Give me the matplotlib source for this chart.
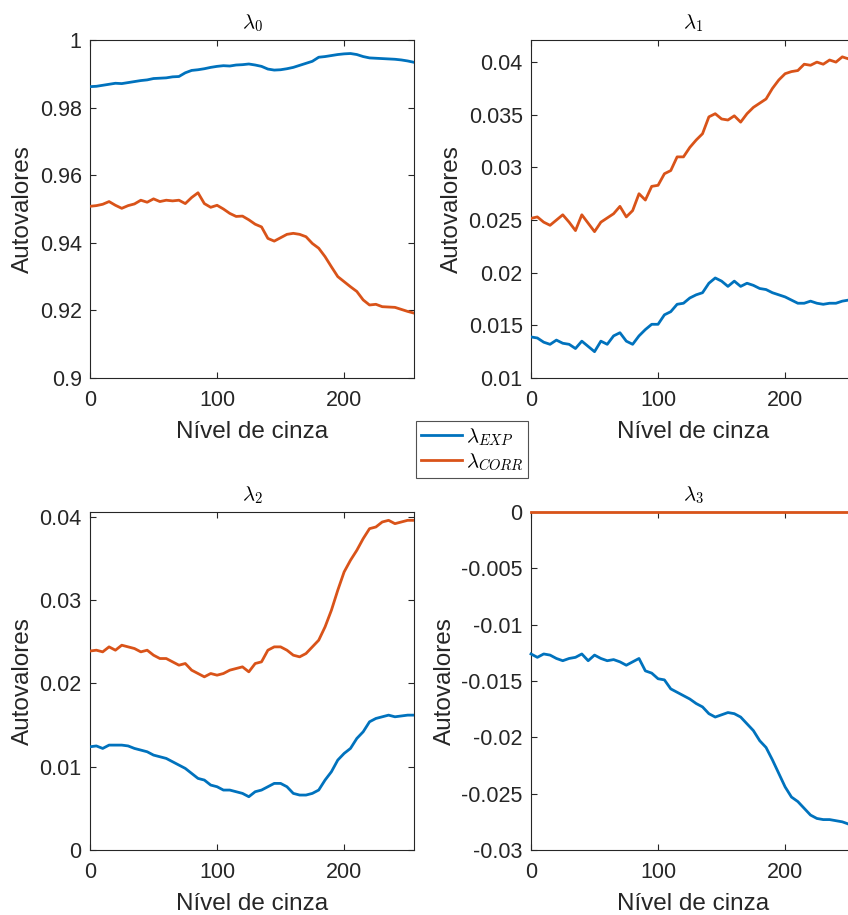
import numpy as np
import matplotlib
matplotlib.use("Agg")
import matplotlib.pyplot as plt
from matplotlib.lines import Line2D

plt.rcParams['font.family'] = ['Liberation Sans', 'DejaVu Sans']
plt.rcParams['mathtext.fontset'] = 'cm'
plt.rcParams['axes.unicode_minus'] = False

# gray levels (step 5)
gray = list(range(0, 256, 5))

l0_exp = [0.9862, 0.9863, 0.9866, 0.9869, 0.9872, 0.9871, 0.9874, 0.9877, 0.9880, 0.9882,
          0.9886, 0.9887, 0.9888, 0.9891, 0.9892, 0.9903, 0.9910, 0.9912, 0.9915, 0.9919,
          0.9922, 0.9924, 0.9923, 0.9926, 0.9927, 0.9929, 0.9926, 0.9922, 0.9914, 0.9911,
          0.9912, 0.9915, 0.9919, 0.9925, 0.9931, 0.9937, 0.9949, 0.9951, 0.9954, 0.9957,
          0.9959, 0.9960, 0.9957, 0.9951, 0.9947, 0.9946, 0.9945, 0.9944, 0.9943, 0.9941,
          0.9938, 0.9934]
l0_corr = [0.9508, 0.9510, 0.9514, 0.9522, 0.9511, 0.9502, 0.9510, 0.9515, 0.9526, 0.9520,
           0.9530, 0.9522, 0.9526, 0.9524, 0.9526, 0.9516, 0.9534, 0.9548, 0.9516, 0.9505,
           0.9511, 0.9500, 0.9487, 0.9478, 0.9479, 0.9468, 0.9455, 0.9447, 0.9413, 0.9405,
           0.9415, 0.9425, 0.9428, 0.9425, 0.9418, 0.9398, 0.9384, 0.9359, 0.9329, 0.9300,
           0.9285, 0.9270, 0.9256, 0.9231, 0.9216, 0.9218, 0.9211, 0.9210, 0.9209, 0.9203,
           0.9197, 0.9192]

l1_exp = [0.0139, 0.0138, 0.0134, 0.0132, 0.0136, 0.0133, 0.0132, 0.0128, 0.0135, 0.0130,
          0.0125, 0.0135, 0.0132, 0.0140, 0.0143, 0.0135, 0.0132, 0.0140, 0.0146, 0.0151,
          0.0151, 0.0160, 0.0163, 0.0170, 0.0171, 0.0176, 0.0179, 0.0181, 0.0190, 0.0195,
          0.0192, 0.0187, 0.0192, 0.0187, 0.0190, 0.0188, 0.0185, 0.0184, 0.0181, 0.0179,
          0.0177, 0.0174, 0.0171, 0.0171, 0.0173, 0.0171, 0.0170, 0.0171, 0.0171, 0.0173,
          0.0174, 0.0180]
l1_corr = [0.02516, 0.0253, 0.0248, 0.0245, 0.0250, 0.0255, 0.0248, 0.0240, 0.0255, 0.0247,
           0.0239, 0.0248, 0.0252, 0.0256, 0.0263, 0.0253, 0.0259, 0.0275, 0.0269, 0.0282,
           0.0283, 0.0294, 0.0297, 0.0310, 0.0310, 0.0319, 0.0326, 0.0332, 0.0348, 0.0351,
           0.0346, 0.0345, 0.0349, 0.0343, 0.0351, 0.0357, 0.0361, 0.0365, 0.0375, 0.0383,
           0.0389, 0.0391, 0.0392, 0.0398, 0.0397, 0.0400, 0.0398, 0.0402, 0.0400, 0.0405,
           0.0403, 0.0410]

l2_exp = [0.0124, 0.0125, 0.0122, 0.0126, 0.0126, 0.0126, 0.0125, 0.0122, 0.0120, 0.0118,
          0.0114, 0.0112, 0.0110, 0.0106, 0.0102, 0.0098, 0.0092, 0.0086, 0.0084, 0.0078,
          0.0076, 0.0072, 0.0072, 0.0070, 0.0068, 0.0064, 0.0070, 0.0072, 0.0076, 0.0080,
          0.0080, 0.0076, 0.0068, 0.0066, 0.0066, 0.0068, 0.0072, 0.0084, 0.0094, 0.0108,
          0.0116, 0.0122, 0.0134, 0.0142, 0.0154, 0.0158, 0.0160, 0.0162, 0.0160, 0.0161,
          0.0162, 0.0162]
l2_corr = [0.0239, 0.0240, 0.0238, 0.0244, 0.0240, 0.0246, 0.0244, 0.0242, 0.0238, 0.0240,
           0.0234, 0.0230, 0.0230, 0.0226, 0.0222, 0.0224, 0.0216, 0.0212, 0.0208, 0.0212,
           0.0210, 0.0212, 0.0216, 0.0218, 0.0220, 0.0214, 0.0224, 0.0226, 0.0240, 0.0244,
           0.0244, 0.0240, 0.0234, 0.0232, 0.0236, 0.0244, 0.0252, 0.0268, 0.0288, 0.0312,
           0.0334, 0.0348, 0.0360, 0.0374, 0.0386, 0.0388, 0.0394, 0.0396, 0.0392, 0.0394,
           0.0396, 0.0396]

l3_exp = [-0.0126, -0.0129, -0.0126, -0.0127, -0.0130, -0.0132, -0.0130, -0.0129, -0.0126, -0.0132,
          -0.0127, -0.0130, -0.0132, -0.0131, -0.0133, -0.0136, -0.0133, -0.0130, -0.0141, -0.0143,
          -0.0148, -0.0149, -0.0157, -0.0160, -0.0163, -0.0166, -0.0170, -0.0173, -0.0179, -0.0182,
          -0.0180, -0.0178, -0.0179, -0.0182, -0.0188, -0.0194, -0.0203, -0.0209, -0.0220, -0.0232,
          -0.0244, -0.0253, -0.0257, -0.0263, -0.0269, -0.0272, -0.0273, -0.0273, -0.0274, -0.0275,
          -0.0277, -0.0283]
l3_corr = [0.0] * 52

titles = [r'$\lambda_0$', r'$\lambda_1$', r'$\lambda_2$', r'$\lambda_3$']
series = [(l0_exp, l0_corr), (l1_exp, l1_corr), (l2_exp, l2_corr), (l3_exp, l3_corr)]
ylims = [(0.9, 1.0), (0.01, 0.0421), (0.0, 0.0406), (-0.03, 0.0)]
yticks = [[0.9, 0.92, 0.94, 0.96, 0.98, 1.0],
          [0.01, 0.015, 0.02, 0.025, 0.03, 0.035, 0.04],
          [0.0, 0.01, 0.02, 0.03, 0.04],
          [-0.03, -0.025, -0.02, -0.015, -0.01, -0.005, 0.0]]
xticks = [0, 100, 200]
legend_labels = [r'$\lambda_{EXP}$', r'$\lambda_{CORR}$']

c_exp = '#0072BD'
c_corr = '#D95319'
axc = '#262626'

W, H = 848, 915
fig = plt.figure(figsize=(W / 100, H / 100), dpi=100)

lefts = [90, 531, 90, 531]
tops = [40, 40, 512, 512]
aw, ah = 324, 338
LW = 2.0

for i in range(4):
    ax = fig.add_axes([lefts[i] / W, 1 - (tops[i] + ah) / H, aw / W, ah / H])
    e, c = series[i]
    ax.plot(gray, e, color=c_exp, lw=LW, clip_on=(i != 3), zorder=3)
    ax.plot(gray, c, color=c_corr, lw=LW, clip_on=(i != 3), zorder=3)
    ax.set_xlim(0, 255)
    ax.set_ylim(*ylims[i])
    ax.set_xticks(xticks)
    ax.set_yticks(yticks[i])
    ax.set_yticklabels(['%g' % v for v in yticks[i]])
    ax.set_xticklabels([str(v) for v in xticks])
    ax.tick_params(direction='in', length=4, width=0.8, colors=axc, labelsize=15.5,
                   top=True, right=True)
    ax.tick_params(axis='x', pad=9)
    ax.tick_params(axis='y', pad=6)
    for sp in ax.spines.values():
        sp.set_color(axc)
        sp.set_linewidth(0.8)
    ax.set_title(titles[i], fontsize=15, color='black', pad=8)
    ax.set_ylabel('Autovalores', fontsize=17.5, color=axc, labelpad=4)
    ax.set_xlabel('Nível de cinza', fontsize=17.5, color=axc, labelpad=7)

handles = [Line2D([], [], color=c_exp, lw=LW), Line2D([], [], color=c_corr, lw=LW)]
leg = fig.legend(handles, legend_labels, loc='center', bbox_to_anchor=(472 / W, 1 - 449.5 / H),
                 fontsize=15, frameon=True, fancybox=False, handlelength=2.0,
                 handletextpad=0.15, borderpad=0.25, labelspacing=0.15, borderaxespad=0)
leg.get_frame().set_edgecolor(axc)
leg.get_frame().set_linewidth(0.8)

fig.savefig('out.png', dpi=100)
